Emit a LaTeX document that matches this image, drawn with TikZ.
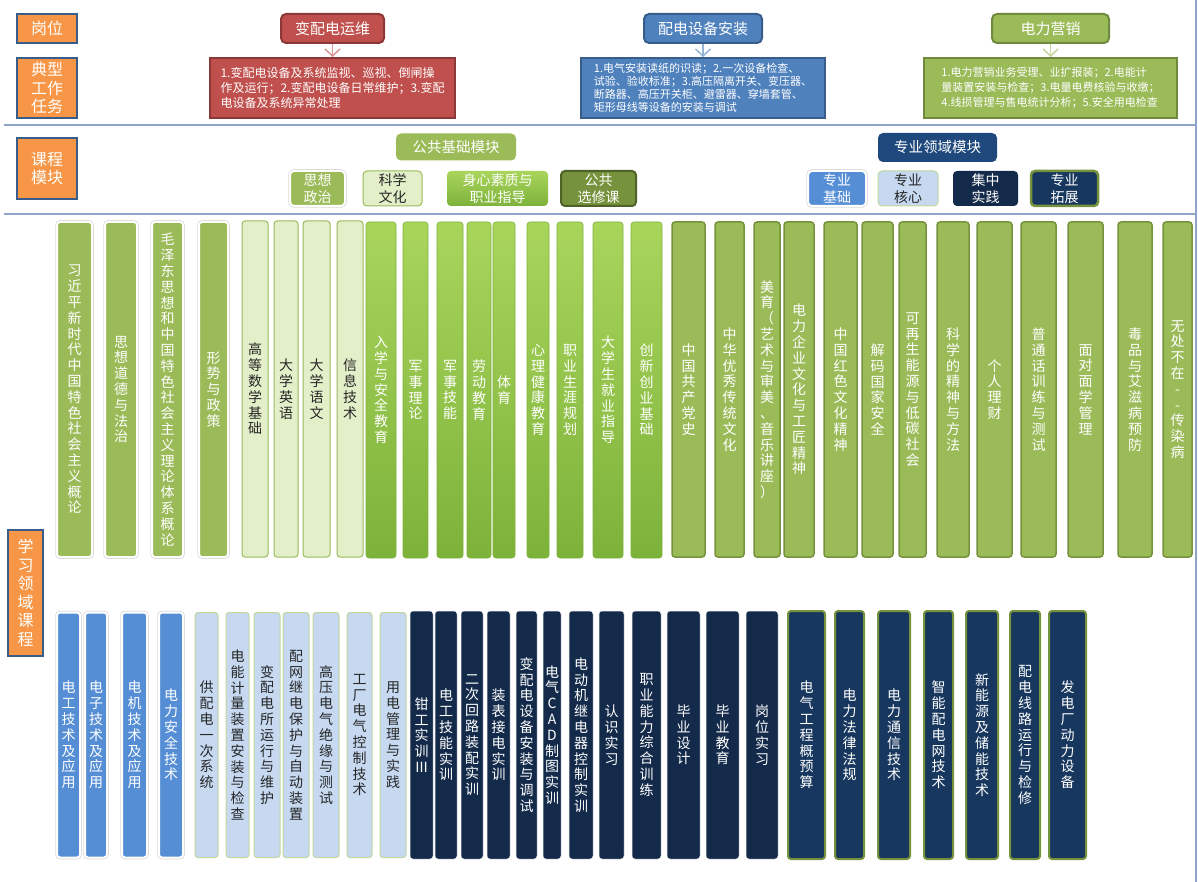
\documentclass[tikz,border=0pt]{standalone}
\usepackage{fontspec}
\setmainfont{Noto Sans CJK SC}
\usetikzlibrary{arrows.meta}
\definecolor{chengse}{HTML}{F79646}
\definecolor{shenlan}{HTML}{385D8A}
\definecolor{hong}{HTML}{C0504D}
\definecolor{hongbian}{HTML}{8C3836}
\definecolor{hongjt}{HTML}{D99694}
\definecolor{lan}{HTML}{4F81BD}
\definecolor{lanjt}{HTML}{95B3D7}
\definecolor{lv}{HTML}{9BBB59}
\definecolor{lvbian}{HTML}{71893F}
\definecolor{lvjt}{HTML}{C3D69B}
\definecolor{xianse}{HTML}{8EA5C8}
\definecolor{ganlan}{HTML}{9BBB59}
\definecolor{shenlv}{HTML}{76923C}
\definecolor{anlv}{HTML}{4F6228}
\definecolor{qianlv}{HTML}{E2EFC9}
\definecolor{liang1}{HTML}{A9D55B}
\definecolor{liang2}{HTML}{7DB23A}
\definecolor{zhonglan}{HTML}{558ED5}
\definecolor{qianlan}{HTML}{C6D9F1}
\definecolor{huilv}{HTML}{C3D69B}
\definecolor{moshen}{HTML}{142A4A}
\definecolor{zangqing}{HTML}{17375E}
\definecolor{mkshen}{HTML}{1F497D}
\definecolor{heise}{HTML}{262626}
\makeatletter
\def\vt#1{\expandafter\vt@a#1\relax}
\def\vt@a#1{\ifx#1\relax\else#1\expandafter\vt@b\fi}
\def\vt@b#1{\ifx#1\relax\else\\#1\expandafter\vt@b\fi}
\makeatother

\begin{document}
\begin{tikzpicture}[x=1pt,y=-1pt,
  biaoqian/.style={fill=chengse,draw=shenlan,line width=2.5pt,text=white,align=center,inner sep=0pt,font=\fontsize{16}{18.5}\selectfont},
  gangwei/.style={rounded corners=5pt,line width=2pt,text=white,inner sep=0pt,minimum height=29pt,font=\fontsize{15}{17}\selectfont},
  renwu/.style={line width=2pt,text=white,align=left,inner sep=0pt,minimum height=60pt},
  jiantou/.style={line width=1.5pt,-{Straight Barb[length=7pt,width=15pt]}},
  fenge/.style={draw=xianse,line width=1.5pt},
  mokuai/.style={rounded corners=5pt,text=white,inner sep=0pt,font=\fontsize{14.5}{17}\selectfont},
  zimk/.style={rounded corners=4pt,align=center,inner sep=0pt,minimum height=35pt,font=\fontsize{14}{17}\selectfont},
  kecheng/.style={rounded corners=3pt,align=center,inner sep=0pt,font=\fontsize{14}{15.8}\selectfont},
  guang/.style={preaction={draw=gray!30,line width=3.5pt},draw=white,line width=2pt},
  szzz/.style={kecheng,guang,fill=ganlan,text=white},
  kxwh/.style={kecheng,fill=qianlv,draw=ganlan,line width=1pt,text=heise},
  sxsz/.style={kecheng,top color=liang1,bottom color=liang2,draw=liang2,line width=0.6pt,text=white},
  ggxx/.style={kecheng,fill=ganlan,draw=shenlv,line width=1.5pt,text=white},
  zyjc/.style={kecheng,guang,fill=zhonglan,text=white},
  zyhx/.style={kecheng,fill=qianlan,draw=huilv,line width=1pt,text=heise},
  jzsj/.style={kecheng,fill=moshen,draw=white!85!gray,line width=0.5pt,text=white},
  zytz/.style={kecheng,fill=zangqing,draw=shenlv,line width=2pt,text=white}]
\fill[white] (0,0) rectangle (1198,882);
\useasboundingbox (0,0) rectangle (1198,882);

\draw[fenge] (4,125) -- (1196,125);
\draw[fenge] (4,214) -- (1196,214);
\draw[fenge] (1196,0) -- (1196,882);

\node[biaoqian,minimum width=60pt,minimum height=29pt] (gw) at (47,28.5) {岗位};
\node[biaoqian,minimum width=60pt,minimum height=60pt] (dxrw) at (47,88) {典型\\工作\\任务};
\node[biaoqian,minimum width=60pt,minimum height=61pt] (kcmk) at (47,168.5) {课程\\模块};
\node[biaoqian,minimum width=35pt,minimum height=126pt] (xxly) at (25.5,593) {\vt{学习领域课程}};

\node[gangwei,fill=hong,draw=hongbian,minimum width=103pt] (bpd) at (332.5,28.5) {变配电运维};
\node[gangwei,fill=lan,draw=shenlan,minimum width=118pt] (pdaz) at (703,28.5) {配电设备安装};
\node[gangwei,fill=lv,draw=lvbian,minimum width=117pt] (dlyx) at (1050.5,28.5) {电力营销};

\node[renwu,fill=hong,draw=hongbian,minimum width=245pt,font=\fontsize{12}{15}\selectfont] (bpdrw) at (332.5,88)
  {1.变配电设备及系统监视、巡视、倒闸操\\作及运行；2.变配电设备日常维护；3.变配\\电设备及系统异常处理};
\node[renwu,fill=lan,draw=shenlan,minimum width=244pt,font=\fontsize{11}{12.8}\selectfont] (pdazrw) at (703,88)
  {1.电气安装读纸的识读；2.一次设备检查、\\试验、验收标准；3.高压隔离开关、变压器、\\断路器、高压开关柜、避雷器、穿墙套管、\\矩形母线等设备的安装与调试};
\node[renwu,fill=lv,draw=lvbian,minimum width=253pt,font=\fontsize{11}{15}\selectfont] (dlyxrw) at (1050.5,88)
  {1.电力营销业务受理、业扩报装；2.电能计\\量装置安装与检查；3.电量电费核验与收缴；\\4.线损管理与售电统计分析；5.安全用电检查};

\draw[jiantou,hongjt] (bpd.south) -- (bpdrw.north);
\draw[jiantou,lanjt] (pdaz.south) -- (pdazrw.north);
\draw[jiantou,lvjt] (dlyx.south) -- (dlyxrw.north);

\node[mokuai,fill=lv,minimum width=120pt,minimum height=27pt] (ggjc) at (456,147) {公共基础模块};
\node[mokuai,fill=mkshen,minimum width=119pt,minimum height=29pt] (zyly) at (937.5,147.5) {专业领域模块};

\node[zimk,guang,fill=ganlan,text=white,minimum width=55pt] (mk1) at (317.5,188.5) {思想\\政治};
\node[zimk,fill=qianlv,draw=ganlan,line width=1pt,text=heise,minimum width=59pt] (mk2) at (392.5,188.5) {科学\\文化};
\node[zimk,top color=liang1,bottom color=liang2,text=white,minimum width=101pt] (mk3) at (497.5,188.5) {身心素质与\\职业指导};
\node[zimk,fill=shenlv,draw=anlv,line width=2pt,text=white,minimum width=75pt] (mk4) at (598.5,188.5) {公共\\选修课};
\node[zimk,guang,fill=zhonglan,text=white,minimum width=58pt] (mk5) at (837,188.5) {专业\\基础};
\node[zimk,fill=qianlan,draw=huilv,line width=1pt,text=heise,minimum width=60pt] (mk6) at (908,188.5) {专业\\核心};
\node[zimk,fill=moshen,text=white,minimum width=65pt] (mk7) at (985.5,188.5) {集中\\实践};
\node[zimk,fill=zangqing,draw=shenlv,line width=2.5pt,text=white,minimum width=67pt] (mk8) at (1064.5,188.5) {专业\\拓展};

\foreach \a/\b/\t [count=\i] in {57/92/习近平新时代中国特色社会主义概论,105/137/思想道德与法治,
    152/183/毛泽东思想和中国特色社会主义理论体系概论,199/228/形势与政策}
  \node[szzz,minimum width={(\b-\a)*1pt},minimum height=335pt] (sz\i) at ({(\a+\b)/2},389.5) {\vt{\t}};
\foreach \a/\b/\t [count=\i] in {242/268/高等数学基础,274/298/大学英语,303/330/大学语文,337/363/信息技术}
  \node[kxwh,minimum width={(\b-\a)*1pt},minimum height=336pt] (kx\i) at ({(\a+\b)/2},389) {\vt{\t}};
\foreach \a/\b/\t [count=\i] in {366/396/入学与安全教育,403/428/军事理论,437/463/军事技能,467/491/劳动教育,
    493/515/体育,527/549/心理健康教育,557/583/职业生涯规划,593/623/大学生就业指导,631/662/创新创业基础}
  \node[sxsz,minimum width={(\b-\a)*1pt},minimum height=336pt] (sx\i) at ({(\a+\b)/2},390) {\vt{\t}};
\foreach \a/\b/\t [count=\i] in {672/705/中国共产党史,715/744/中华优秀传统文化,754/780/美育（艺术与审美、音乐讲座）,
    784/814/电力企业文化与工匠精神,824/857/中国红色文化精神,862/893/解码国家安全,899/926/可再生能源与低碳社会,
    937/969/科学的精神与方法,977/1012/个人理财,1021/1056/普通话训练与测试,1068/1103/面对面学管理,
    1118/1152/毒品与艾滋病预防,1163/1192/无处不在--传染病}
  \node[ggxx,minimum width={(\b-\a)*1pt},minimum height=335pt] (xx\i) at ({(\a+\b)/2},389.5) {\vt{\t}};

\foreach \a/\b/\t [count=\i] in {57/80/电工技术及应用,85/107/电子技术及应用,122/147/电机技术及应用,159/183/电力安全技术}
  \node[zyjc,minimum width={(\b-\a)*1pt},minimum height=245pt] (jc\i) at ({(\a+\b)/2},735) {\vt{\t}};
\foreach \a/\b/\t [count=\i] in {195/218/供配电一次系统,226/249/电能计量装置安装与检查,254/280/变配电所运行与维护,
    283/309/配网继电保护与自动装置,313/339/高压电气绝缘与测试,347/372/工厂电气控制技术,380/406/用电管理与实践}
  \node[zyhx,minimum width={(\b-\a)*1pt},minimum height=245pt] (hx\i) at ({(\a+\b)/2},735) {\vt{\t}};
\foreach \a/\b/\t [count=\i] in {410/433/钳工实训Ⅲ,435/457/电工技能实训,461/483/二次回路装配实训,487/510/装表接电实训,
    516/537/变配电设备安装与调试,543/561/电气CAD制图实训,569/593/电动机继电器控制实训,599/624/认识实习,
    632/661/职业能力综合训练,667/700/毕业设计,706/739/毕业教育,746/778/岗位实习}
  \node[jzsj,minimum width={(\b-\a)*1pt},minimum height=248pt] (sj\i) at ({(\a+\b)/2},735) {\vt{\t}};
\foreach \a/\b/\t [count=\i] in {788/825/电气工程概预算,835/864/电力法律法规,878/910/电力通信技术,924/953/智能配电网技术,
    966/998/新能源及储能技术,1010/1040/配电线路运行与检修,1049/1086/发电厂动力设备}
  \node[zytz,minimum width={(\b-\a)*1pt},minimum height=248pt] (tz\i) at ({(\a+\b)/2},735) {\vt{\t}};
\end{tikzpicture}
\end{document}
